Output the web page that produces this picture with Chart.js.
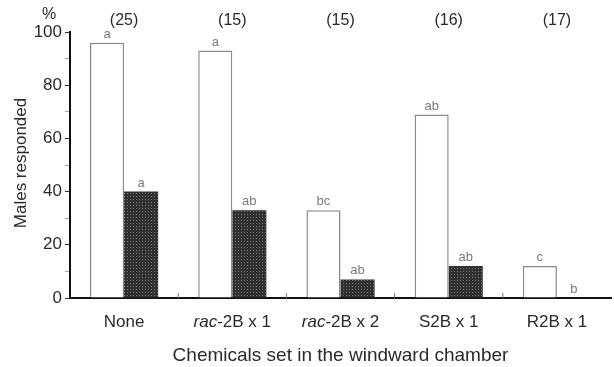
<!DOCTYPE html>
<html>
<head>
<meta charset="utf-8">
<script src="https://cdn.jsdelivr.net/npm/chart.js@4/dist/chart.umd.min.js"></script>
<style>
  html, body { margin: 0; padding: 0; background: #fff; }
  #wrap { width: 614px; height: 367px; position: relative; }
</style>
</head>
<body>
<div id="wrap"><canvas id="c" width="614" height="367"></canvas></div>
<script>
// Response of males to chemicals placed in the windward chamber
const categories = ['None', 'rac-2B x 1', 'rac-2B x 2', 'S2B x 1', 'R2B x 1'];
const sampleSizes = ['(25)', '(15)', '(15)', '(16)', '(17)'];
const openValues = [96, 93, 33, 69, 12];
const filledValues = [40, 33, 7, 12, 0];
const openLetters = ['a', 'a', 'bc', 'ab', 'c'];
const filledLetters = ['a', 'ab', 'ab', 'ab', 'b'];
const yTicks = [0, 20, 40, 60, 80, 100];

const FONT = '"Liberation Sans", Arial, sans-serif';
const TEXT = '#2a2a2a';

// dotted dark texture for the filled bars
function makePattern() {
  const p = document.createElement('canvas');
  p.width = 3; p.height = 3;
  const g = p.getContext('2d');
  g.fillStyle = '#303030';
  g.fillRect(0, 0, 3, 3);
  g.fillStyle = '#767676';
  g.fillRect(1, 1, 1, 1);
  return g.createPattern(p, 'repeat');
}
const ctx0 = document.getElementById('c').getContext('2d');
const darkFill = makePattern();

function drawLabel(ctx, text, cx, cy) {
  // "rac" prefix is drawn in italics
  let parts = [{ t: text, it: false }];
  if (text.startsWith('rac')) parts = [{ t: 'rac', it: true }, { t: text.slice(3), it: false }];
  let total = 0;
  parts.forEach(p => {
    ctx.font = (p.it ? 'italic ' : '') + '17px ' + FONT;
    p.w = ctx.measureText(p.t).width;
    total += p.w;
  });
  let x = cx - total / 2;
  ctx.textAlign = 'left';
  ctx.textBaseline = 'middle';
  parts.forEach(p => {
    ctx.font = (p.it ? 'italic ' : '') + '17px ' + FONT;
    ctx.fillText(p.t, x, cy);
    x += p.w;
  });
}

const annotate = {
  id: 'annotate',
  afterDraw(chart) {
    const { ctx, chartArea, scales } = chart;
    const xs = scales.x;
    ctx.save();

    // small upward ticks between categories
    ctx.strokeStyle = '#777';
    ctx.lineWidth = 1;
    for (let i = 0; i < categories.length - 1; i++) {
      const bx = (xs.getPixelForValue(i) + xs.getPixelForValue(i + 1)) / 2;
      ctx.beginPath();
      ctx.moveTo(bx, chartArea.bottom);
      ctx.lineTo(bx, chartArea.bottom - 5);
      ctx.stroke();
    }

    // significance letters above each bar
    ctx.fillStyle = '#7a7a7a';
    ctx.font = '13px ' + FONT;
    ctx.textAlign = 'center';
    ctx.textBaseline = 'bottom';
    [[0, openLetters], [1, filledLetters]].forEach(([di, letters]) => {
      chart.getDatasetMeta(di).data.forEach((bar, i) => {
        ctx.fillText(letters[i], bar.x, bar.y - 2);
      });
    });

    // sample sizes on top
    ctx.fillStyle = TEXT;
    ctx.font = '16px ' + FONT;
    ctx.textBaseline = 'middle';
    categories.forEach((c, i) => {
      ctx.fillText(sampleSizes[i], xs.getPixelForValue(i), 21);
    });

    // percent sign above the value axis
    ctx.fillText('%', 49, 15);

    // category labels
    categories.forEach((c, i) => drawLabel(ctx, c, xs.getPixelForValue(i), 322));

    // axis titles
    ctx.font = '19px ' + FONT;
    ctx.textAlign = 'center';
    ctx.textBaseline = 'middle';
    ctx.fillText('Chemicals set in the windward chamber', (chartArea.left + chartArea.right) / 2, 356);
    ctx.font = '17px ' + FONT;
    ctx.save();
    ctx.translate(21, 163);
    ctx.rotate(-Math.PI / 2);
    ctx.fillText('Males responded', 0, 0);
    ctx.restore();

    ctx.restore();
  }
};

new Chart(ctx0, {
  type: 'bar',
  data: {
    labels: categories,
    datasets: [
      {
        data: openValues,
        backgroundColor: '#ffffff',
        borderColor: '#8a8a8a',
        borderWidth: 1.5,
        borderSkipped: 'bottom'
      },
      {
        data: filledValues,
        backgroundColor: darkFill,
        borderWidth: 0
      }
    ]
  },
  options: {
    responsive: false,
    animation: false,
    events: [],
    layout: { padding: { top: 32, right: 3, left: 0, bottom: 0 } },
    categoryPercentage: 0.63,
    barPercentage: 1.0,
    plugins: { legend: { display: false }, tooltip: { enabled: false } },
    scales: {
      x: {
        grid: { display: false },
        border: { color: '#111', width: 2 },
        ticks: { display: false },
        afterFit(s) { s.height = 69; }
      },
      y: {
        min: 0,
        max: 100,
        afterBuildTicks(s) {
          const t = [];
          for (let v = 0; v <= 100; v += 10) t.push({ value: v });
          s.ticks = t;
        },
        grid: {
          drawOnChartArea: false,
          drawTicks: true,
          tickLength: 5,
          tickColor: c => (c.tick && c.tick.value % 20 === 0) ? '#333' : '#aaa',
          tickWidth: 1
        },
        border: { color: '#111', width: 2 },
        ticks: {
          color: TEXT,
          font: { family: FONT, size: 17 },
          padding: 3,
          autoSkip: false,
          callback: v => yTicks.includes(v) ? String(v) : ''
        },
        afterFit(s) { s.width = 70; }
      }
    }
  },
  plugins: [annotate]
});
</script>
</body>
</html>
